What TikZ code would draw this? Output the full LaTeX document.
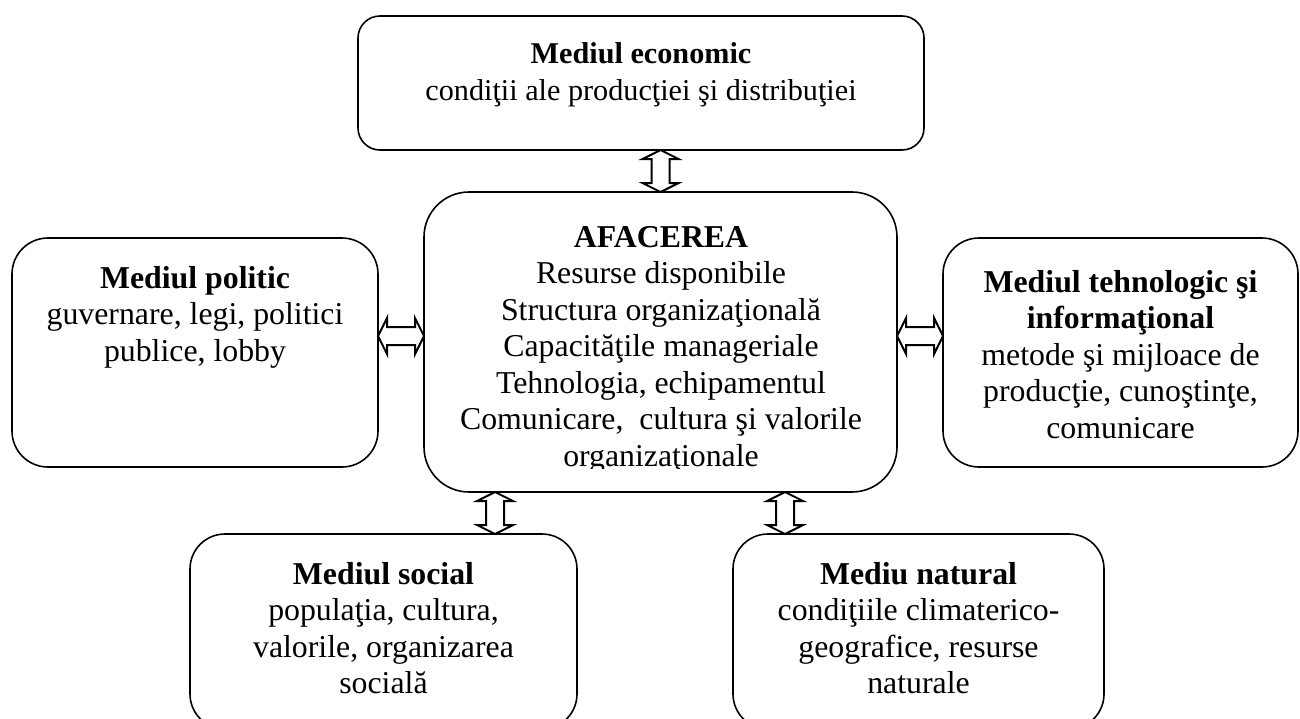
\documentclass[tikz,border=0pt]{standalone}
\usepackage{fontspec}
\setmainfont{Liberation Serif}
\usetikzlibrary{calc}

\tikzset{
  panel/.style={draw=black, line width=1.6pt, rectangle, inner sep=0pt, outer sep=0pt},
  boxtext/.style={anchor=base, inner sep=0pt, font=\fontsize{31.8pt}{36.5pt}\selectfont},
  toptext/.style={boxtext, font=\fontsize{30.2pt}{37pt}\selectfont},
  % hollow up-down arrow: start is the lower end, target the upper end
  vdouble/.style={draw=black, line width=2pt, line join=miter,
    to path={let \p1=(\tikztostart), \p2=(\tikztotarget) in
      (\p1) -- (\x1-18pt,\y1+9pt) -- (\x1-9pt,\y1+9pt) -- (\x1-9pt,\y2-9pt)
      -- (\x1-18pt,\y2-9pt) -- (\x1,\y2) -- (\x1+18pt,\y2-9pt) -- (\x1+9pt,\y2-9pt)
      -- (\x1+9pt,\y1+9pt) -- (\x1+18pt,\y1+9pt) -- cycle}},
  % hollow left-right arrow: start is the left end, target the right end
  hdouble/.style={draw=black, line width=2pt, line join=miter,
    to path={let \p1=(\tikztostart), \p2=(\tikztotarget) in
      (\p1) -- (\x1+9pt,\y1+18pt) -- (\x1+9pt,\y1+9pt) -- (\x2-9pt,\y1+9pt)
      -- (\x2-9pt,\y1+18pt) -- (\x2,\y1) -- (\x2-9pt,\y1-18pt) -- (\x2-9pt,\y1-9pt)
      -- (\x1+9pt,\y1-9pt) -- (\x1+9pt,\y1-18pt) -- cycle}},
}

\begin{document}
\begin{tikzpicture}[x=1pt,y=-1pt]
\useasboundingbox (0,0) rectangle (1300,718);
\clip (0,0) rectangle (1300,718);

% rounded frames
\node[panel, minimum width=566pt, minimum height=134pt, rounded corners=22pt] (econ) at (641,83) {};
\node[panel, minimum width=473pt, minimum height=300pt, rounded corners=45pt] (biz) at (660.5,342) {};
\node[panel, minimum width=366pt, minimum height=229pt, rounded corners=36pt] (pol) at (195,352.5) {};
\node[panel, minimum width=355pt, minimum height=229pt, rounded corners=36pt] (tech) at (1120.5,352.5) {};
\node[panel, minimum width=387pt, minimum height=195pt, rounded corners=35pt] (social) at (383.5,631.5) {};
\node[panel, minimum width=371pt, minimum height=195pt, rounded corners=35pt] (nature) at (918.5,631.5) {};

% texts
\node[toptext] (econ-t) at (641,63) {\begin{tabular}[t]{@{}c@{}}\textbf{Mediul economic}\\condiţii ale producţiei şi distribuţiei\end{tabular}};

\begin{scope}
  \clip (biz.north west) rectangle ($(biz.south east)+(0,-24)$);
  \node[boxtext] (biz-t) at (661,247) {\begin{tabular}[t]{@{}c@{}}\textbf{AFACEREA}\\Resurse disponibile\\Structura organizaţională\\Capacităţile manageriale\\Tehnologia, echipamentul\\Comunicare,\ \ cultura şi valorile\\organizaţionale\end{tabular}};
\end{scope}

\node[boxtext] (pol-t) at (195,288) {\begin{tabular}[t]{@{}c@{}}\textbf{Mediul politic}\\guvernare, legi, politici\\publice, lobby\end{tabular}};

\node[boxtext] (tech-t) at (1120.5,292) {\begin{tabular}[t]{@{}c@{}}\textbf{Mediul tehnologic şi}\\\textbf{informaţional}\\metode şi mijloace de\\producţie, cunoştinţe,\\comunicare\end{tabular}};

\node[boxtext] (social-t) at (383.5,584) {\begin{tabular}[t]{@{}c@{}}\textbf{Mediul social}\\populaţia, cultura,\\valorile, organizarea\\socială\end{tabular}};

\node[boxtext] (nature-t) at (918.5,584) {\begin{tabular}[t]{@{}c@{}}\textbf{Mediu natural}\\condiţiile climaterico-\\geografice, resurse\\naturale\end{tabular}};

% two-way links
\coordinate (mid) at (0,336);
\coordinate (bl) at ($(biz.south west)+(71,0)$);
\coordinate (br) at ($(biz.south east)+(-112,0)$);

\draw[vdouble] (biz.north) to (biz.north |- econ.south);
\draw[hdouble] (pol.east |- mid) to (biz.west |- mid);
\draw[hdouble] (biz.east |- mid) to (tech.west |- mid);
\draw[vdouble] (bl |- social.north) to (bl);
\draw[vdouble] (br |- nature.north) to (br);
\end{tikzpicture}
\end{document}
